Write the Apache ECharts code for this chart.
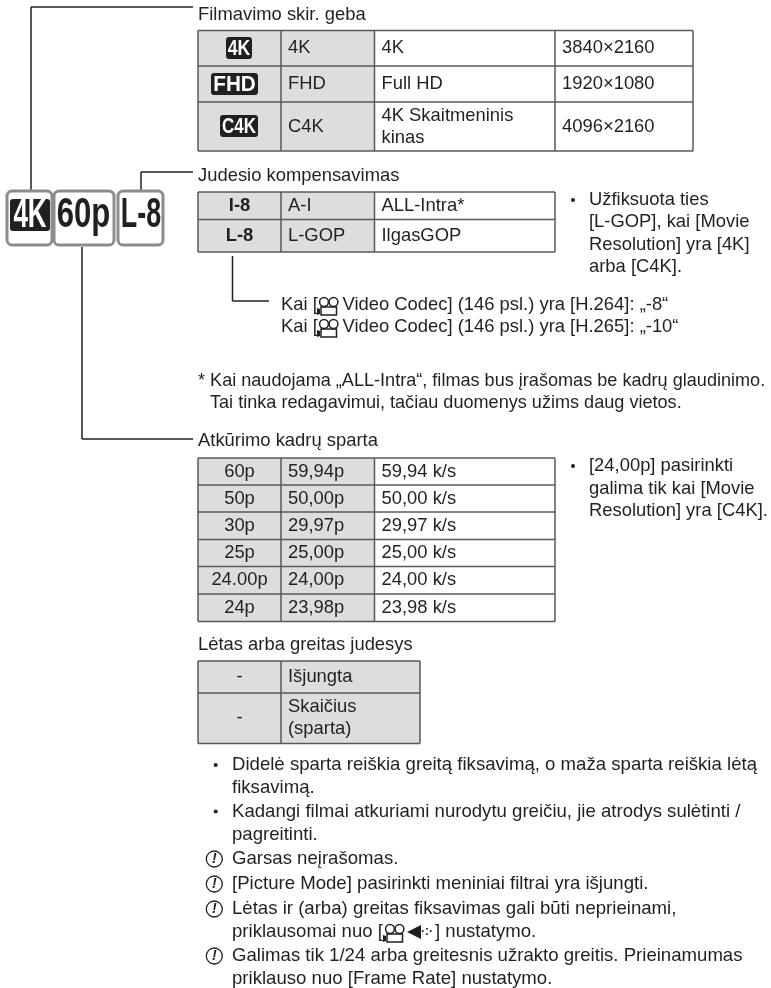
<!DOCTYPE html>
<html>
<head>
<meta charset="utf-8">
<title>Filmavimo nustatymai</title>
<style>
  html, body { margin: 0; padding: 0; background: #ffffff; }
  #main { width: 771px; height: 988px; }
</style>
</head>
<body>
<div id="main"></div>
<script src="https://cdn.jsdelivr.net/npm/echarts@6/dist/echarts.min.js"></script>
<script>
// table contents
const resolutionCodes = ['4K', 'FHD', 'C4K'];
const resolutionNames = ['4K', 'FHD', 'C4K'];
const resolutionLong = ['4K', 'Full HD', '4K Skaitmeninis\nkinas'];
const resolutionSizes = ['3840×2160', '1920×1080', '4096×2160'];

const codecCodes = ['I-8', 'L-8'];
const codecNames = ['A-I', 'L-GOP'];
const codecLong = ['ALL-Intra*', 'IlgasGOP'];

const rateCodes = ['60p', '50p', '30p', '25p', '24.00p', '24p'];
const rateNames = ['59,94p', '50,00p', '29,97p', '25,00p', '24,00p', '23,98p'];
const rateLong = ['59,94 k/s', '50,00 k/s', '29,97 k/s', '25,00 k/s', '24,00 k/s', '23,98 k/s'];

const slowCodes = ['-', '-'];
const slowNames = ['Išjungta', 'Skaičius\n(sparta)'];

const headings = ['Filmavimo skir. geba', 'Judesio kompensavimas', 'Atkūrimo kadrų sparta', 'Lėtas arba greitas judesys'];
const codecNote = ['Užfiksuota ties', '[L-GOP], kai [Movie', 'Resolution] yra [4K]', 'arba [C4K].'];
const rateNote = ['[24,00p] pasirinkti', 'galima tik kai [Movie', 'Resolution] yra [C4K].'];
const footnote = ['* Kai naudojama „ALL-Intra“, filmas bus įrašomas be kadrų glaudinimo.', 'Tai tinka redagavimui, tačiau duomenys užims daug vietos.'];
const slowBullets = [
  ['Didelė sparta reiškia greitą fiksavimą, o maža sparta reiškia lėtą', 'fiksavimą.'],
  ['Kadangi filmai atkuriami nurodytu greičiu, jie atrodys sulėtinti /', 'pagreitinti.']
];
const cautions = [
  ['Garsas neįrašomas.'],
  ['[Picture Mode] pasirinkti meniniai filtrai yra išjungti.'],
  ['Lėtas ir (arba) greitas fiksavimas gali būti neprieinami,'],
  ['Galimas tik 1/24 arba greitesnis užrakto greitis. Prieinamumas', 'priklauso nuo [Frame Rate] nustatymo.']
];

const FONT = '"Liberation Sans", Arial, sans-serif';
const TEXT = '#231f20';
const LINE = '#58595b';
const GREY = '#dcddde';
const SIZE = 18.4;
const SIZE_LOWER = 18.6;   // the bullets under the last table run a bit wider
const SIZE_NOTE = 18.1;

let g = [];

function label(str, x, y, opt) {
  opt = opt || {};
  g.push({
    type: 'text',
    z: 5,
    style: {
      text: str, x: x, y: y,
      fill: opt.fill || TEXT,
      font: (opt.bold ? 'bold ' : '') + (opt.size || SIZE) + 'px ' + FONT,
      align: opt.align || 'left',
      verticalAlign: 'middle',
      lineHeight: opt.lineHeight || 22
    }
  });
}

function seg(x1, y1, x2, y2, color, width) {
  g.push({
    type: 'line', z: 3,
    shape: { x1: x1, y1: y1, x2: x2, y2: y2 },
    style: { stroke: color || LINE, lineWidth: width || 1.5 }
  });
}

function box(x, y, w, h, fill) {
  g.push({ type: 'rect', z: 1, shape: { x: x, y: y, width: w, height: h }, style: { fill: fill } });
}

// cols: x edges, rows: y edges, greyTo: index of the col edge where the grey stops
function table(cols, rows, greyTo, columns, opt) {
  opt = opt || {};
  box(cols[0], rows[0], cols[greyTo] - cols[0], rows[rows.length - 1] - rows[0], GREY);
  rows.forEach(y => seg(cols[0], y, cols[cols.length - 1], y));
  cols.forEach(x => seg(x, rows[0], x, rows[rows.length - 1]));
  columns.forEach((col, c) => {
    col.forEach((str, r) => {
      const cy = (rows[r] + rows[r + 1]) / 2;
      if (c === 0) {
        if (str) label(str, (cols[0] + cols[1]) / 2, cy, { align: 'center', bold: opt.boldFirst });
      } else {
        label(str, cols[c] + 7, cy);
      }
    });
  });
}

// squeezed bold text, for the camera style badges
function squeezed(str, cx, cy, size, sx, fill) {
  g.push({
    type: 'text', z: 6,
    x: cx, y: cy, scaleX: sx, scaleY: 1,
    style: {
      text: str, x: 0, y: 0, fill: fill,
      font: 'bold ' + size + 'px ' + FONT,
      align: 'center', verticalAlign: 'middle'
    }
  });
}

function badge(str, x, y, w, h, size, sx) {
  g.push({ type: 'rect', z: 4, shape: { x: x, y: y, width: w, height: h, r: 3 }, style: { fill: '#231f20' } });
  squeezed(str, x + w / 2, y + h / 2 + 0.5, size, sx, '#ffffff');
}

function frame(x, y, w, h) {
  g.push({
    type: 'rect', z: 3,
    shape: { x: x, y: y, width: w, height: h, r: 5 },
    style: { fill: '#ffffff', stroke: '#8a8c8e', lineWidth: 3 }
  });
}

// little movie camera glyph
function movieIcon(x, y) {
  const st = { fill: 'none', stroke: TEXT, lineWidth: 1.5 };
  g.push({ type: 'circle', z: 5, shape: { cx: x + 11, cy: y - 3, r: 4.4 }, style: st });
  g.push({ type: 'circle', z: 5, shape: { cx: x + 20.5, cy: y - 3, r: 4.4 }, style: st });
  g.push({ type: 'rect', z: 5, shape: { x: x + 8, y: y + 2, width: 15.5, height: 8 }, style: st });
  g.push({ type: 'polygon', z: 5, shape: { points: [[x + 7, y + 4], [x + 4, y + 3], [x + 4, y + 10], [x + 7, y + 9]] }, style: { fill: TEXT } });
}

function caution(cx, cy) {
  g.push({ type: 'circle', z: 5, shape: { cx: cx, cy: cy, r: 8 }, style: { fill: '#fff', stroke: TEXT, lineWidth: 1.3 } });
  g.push({
    type: 'text', z: 6,
    style: { text: '!', x: cx, y: cy + 0.5, fill: TEXT, font: 'italic bold 14px ' + FONT, align: 'center', verticalAlign: 'middle' }
  });
}

function dot(x, y) {
  g.push({ type: 'circle', z: 5, shape: { cx: x, cy: y, r: 2 }, style: { fill: TEXT } });
}

// connector lines from the big badges
const LEAD = '#231f20';
seg(31, 190, 31, 7, LEAD, 1.5);
seg(31, 7, 193, 7, LEAD, 1.5);
seg(141, 190, 141, 172, LEAD, 1.5);
seg(141, 172, 193, 172, LEAD, 1.5);
seg(82, 247, 82, 439, LEAD, 1.5);
seg(82, 439, 193, 439, LEAD, 1.5);
seg(232.5, 256, 232.5, 301, LEAD, 1.5);
seg(232.5, 301, 269, 301, LEAD, 1.5);

// big badges
frame(7, 191, 45, 54);
frame(54, 191, 60, 54);
frame(118, 191, 45, 54);
badge('4K', 10, 199, 40, 32, 40, 0.65);
squeezed('60p', 83.5, 215, 42, 0.74, '#231f20');
squeezed('L-8', 141, 215, 42, 0.64, '#231f20');

// resolution
label(headings[0], 198, 14.5);
table([198, 281, 374.5, 555, 693], [30.5, 66, 102, 151], 2,
  [['', '', ''], resolutionNames, resolutionLong, resolutionSizes]);
badge(resolutionCodes[0], 226, 37, 26, 22, 22, 0.8);
badge(resolutionCodes[1], 211, 73, 47, 22, 22, 0.94);
badge(resolutionCodes[2], 220, 115, 38, 22, 22, 0.77);

// codec
label(headings[1], 198, 176);
table([198, 281, 374.5, 555], [192, 219.5, 252], 2, [codecCodes, codecNames, codecLong], { boldFirst: true });
dot(573, 200);
codecNote.forEach((s, i) => label(s, 589, 200 + i * 22.3));

label('Kai [', 281, 305);
movieIcon(313, 305);
label('Video Codec] (146 psl.) yra [H.264]: „-8“', 342.5, 305);
label('Kai [', 281, 327);
movieIcon(313, 327);
label('Video Codec] (146 psl.) yra [H.265]: „-10“', 342.5, 327);

label(footnote[0], 198, 381, { size: SIZE_NOTE });
label(footnote[1], 210, 403, { size: SIZE_NOTE });

// frame rate
label(headings[2], 198, 441);
table([198, 281, 374.5, 555], [458, 485, 512, 539.5, 566.5, 594, 621.5], 2, [rateCodes, rateNames, rateLong]);
dot(573, 466);
rateNote.forEach((s, i) => label(s, 589, 466 + i * 22.5));

// slow / fast
label(headings[3], 198, 645);
table([198, 281, 420], [661, 693, 743.5], 2, [slowCodes, slowNames]);

let y = 765;
slowBullets.forEach(lines => {
  dot(215.7, y);
  lines.forEach(s => { label(s, 232, y, { size: SIZE_LOWER }); y += 23.3; });
});
const cautionY = [859, 884, 909, 956];
cautions.forEach((lines, i) => {
  caution(214.3, cautionY[i]);
  lines.forEach((s, k) => label(s, 232, cautionY[i] + k * 23, { size: SIZE_LOWER }));
});
// line with the camera + arrow glyph
label('priklausomai nuo [', 232, 932, { size: SIZE_LOWER });
movieIcon(379, 932);
g.push({ type: 'polygon', z: 5, shape: { points: [[407, 932], [421, 925], [421, 939]] }, style: { fill: TEXT } });
label('·:·', 421, 932, { bold: true, size: 12 });
label('] nustatymo.', 435, 932, { size: SIZE_LOWER });

let myChart = echarts.init(document.getElementById('main'), null, { renderer: 'canvas' });
myChart.setOption({
  backgroundColor: '#ffffff',
  animation: false,
  graphic: { elements: g }
});
</script>
</body>
</html>
